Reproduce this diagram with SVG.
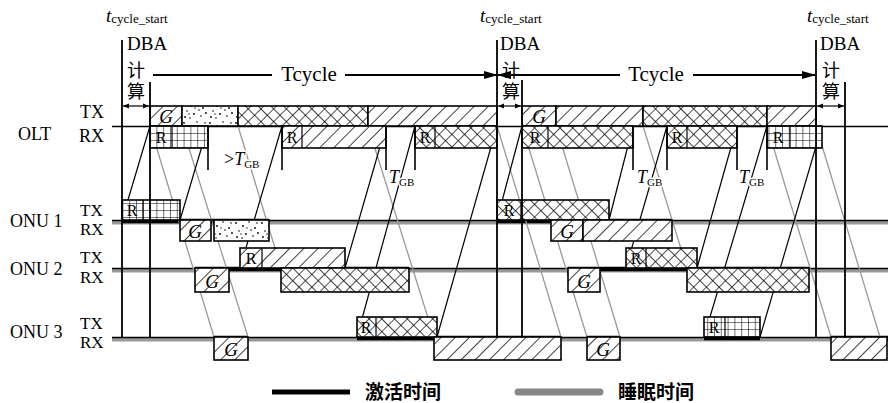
<svg xmlns="http://www.w3.org/2000/svg" width="888" height="403" viewBox="0 0 888 403">
<style>
text{font-family:"Liberation Serif","Noto Sans CJK SC",serif;fill:#000}
.lb{font-size:18px}
.lt{font-size:17px}
.box{stroke:#000;stroke-width:1.6}
.sep{stroke:#000;stroke-width:1.2}
.up{stroke:#000;stroke-width:1.2;fill:none}
.dn{stroke:#999;stroke-width:1.3;fill:none}
.v{stroke:#000;stroke-width:1.8}
.mk{stroke:#000;stroke-width:1.6}
.g{font-style:italic;font-size:19px}
.r{font-size:16px}
.halo{paint-order:stroke;stroke:#fff;stroke-width:3px}
.sleep{stroke:#999;stroke-width:4}
.base{stroke:#000;stroke-width:1.5}
.act{stroke:#000;stroke-width:4.5}
.cj{font-family:"Noto Sans CJK SC",sans-serif;font-size:19px;font-weight:bold}
</style>
<defs>
<pattern id="pd" width="10" height="10" patternUnits="userSpaceOnUse" patternTransform="rotate(45)">
<rect width="10" height="10" fill="#fff"/><line x1="0" y1="0" x2="0" y2="10" stroke="#000" stroke-width="1.5"/></pattern>
<pattern id="px" width="9" height="9" patternUnits="userSpaceOnUse" patternTransform="rotate(45)">
<rect width="9" height="9" fill="#fff"/><path d="M0,0V9M0,0H9" stroke="#000" stroke-width="1.35"/></pattern>
<pattern id="pg" width="6.8" height="7" patternUnits="userSpaceOnUse">
<rect width="6.8" height="7" fill="#fff"/><path d="M0,0V7M0,0H6.8" stroke="#000" stroke-width="1.1"/></pattern>
<pattern id="pdot" width="26" height="20" patternUnits="userSpaceOnUse">
<rect width="26" height="20" fill="#fff"/>
<g fill="#000"><circle cx="2" cy="3" r="0.9"/><circle cx="9" cy="6" r="0.9"/><circle cx="15" cy="2" r="0.8"/><circle cx="21" cy="8" r="0.9"/><circle cx="5" cy="11" r="0.8"/><circle cx="12" cy="14" r="0.9"/><circle cx="19" cy="16" r="0.8"/><circle cx="24" cy="13" r="0.9"/><circle cx="3" cy="17" r="0.9"/><circle cx="17" cy="10" r="0.8"/><circle cx="8" cy="18" r="0.8"/><circle cx="23" cy="3" r="0.8"/><circle cx="13" cy="8" r="0.7"/><circle cx="7" cy="14" r="0.7"/></g></pattern>
<marker id="ah" markerWidth="14" markerHeight="10" refX="13" refY="5" orient="auto-start-reverse" markerUnits="userSpaceOnUse"><path d="M0,1 L14,5 L0,9z"/></marker>
<marker id="sa" markerWidth="6" markerHeight="6" refX="6" refY="3" orient="auto-start-reverse" markerUnits="userSpaceOnUse"><path d="M0,0.5 L6,3 L0,5.5z"/></marker>
</defs>
<rect width="888" height="403" fill="#fff"/>

<g id="rows">
<line class="base" x1="112" y1="126.5" x2="888" y2="126.5"/>
<g id="onu1-line">
<line class="sleep" x1="112" y1="222.5" x2="888" y2="222.5"/>
<line class="base" x1="112" y1="220.5" x2="888" y2="220.5"/>
<line class="act" x1="122" y1="221" x2="269" y2="221"/>
<line class="act" x1="497" y1="221" x2="672" y2="221"/>
</g>
<g id="onu2-line">
<line class="sleep" x1="112" y1="270.5" x2="888" y2="270.5"/>
<line class="base" x1="112" y1="268.5" x2="888" y2="268.5"/>
<line class="act" x1="195" y1="269" x2="409" y2="269"/>
<line class="act" x1="568" y1="269" x2="809" y2="269"/>
</g>
<g id="onu3-line">
<line class="sleep" x1="112" y1="339.5" x2="888" y2="339.5"/>
<line class="base" x1="112" y1="337.5" x2="888" y2="337.5"/>
<line class="act" x1="214" y1="338" x2="248" y2="338"/>
<line class="act" x1="357" y1="338" x2="561" y2="338"/>
<line class="act" x1="587" y1="338" x2="620" y2="338"/>
<line class="act" x1="704" y1="338" x2="760" y2="338"/>
<line class="act" x1="831" y1="338" x2="888" y2="338"/>
</g>
</g>

<g id="connectors">
<line class="dn" x1="150" y1="126" x2="214" y2="337"/>
<line class="dn" x1="182" y1="126" x2="248" y2="337"/>
<line class="dn" x1="238" y1="126" x2="281" y2="268"/>
<line class="dn" x1="368" y1="126" x2="434" y2="337"/>
<line class="dn" x1="497" y1="126" x2="561" y2="337"/>
<line class="dn" x1="522" y1="126" x2="587" y2="337"/>
<line class="dn" x1="556" y1="126" x2="620" y2="337"/>
<line class="dn" x1="643" y1="126" x2="687" y2="268"/>
<line class="dn" x1="767" y1="126" x2="831" y2="337"/>
<line class="dn" x1="816" y1="126" x2="880" y2="337"/>
<line class="up" x1="122" y1="220" x2="150" y2="126"/>
<line class="up" x1="180" y1="220" x2="208" y2="126"/>
<line class="up" x1="240" y1="268" x2="282" y2="126"/>
<line class="up" x1="345" y1="268" x2="386" y2="126"/>
<line class="up" x1="357" y1="337" x2="415" y2="126"/>
<line class="up" x1="437" y1="337" x2="497" y2="126"/>
<line class="up" x1="497" y1="220" x2="522" y2="126"/>
<line class="up" x1="609" y1="220" x2="633" y2="126"/>
<line class="up" x1="626" y1="268" x2="667" y2="126"/>
<line class="up" x1="697" y1="268" x2="737" y2="126"/>
<line class="up" x1="704" y1="337" x2="767" y2="126"/>
<line class="up" x1="760" y1="337" x2="822" y2="126"/>
</g>

<g id="olt-tx">
<g id="olt-tx-g1"><rect class="box" x="150" y="106" width="32" height="20" fill="url(#pd)"/><text class="g" x="166" y="123" text-anchor="middle">G</text></g>
<g id="olt-tx-d1"><rect class="box" x="182" y="106" width="56" height="20" fill="url(#pdot)"/></g>
<g id="olt-tx-x1"><rect class="box" x="238" y="106" width="130" height="20" fill="url(#px)"/></g>
<g id="olt-tx-h1"><rect class="box" x="368" y="106" width="129" height="20" fill="url(#pd)"/></g>
<g id="olt-tx-g2"><rect class="box" x="522" y="106" width="34" height="20" fill="url(#pd)"/><text class="g" x="539" y="123" text-anchor="middle">G</text></g>
<g id="olt-tx-h2"><rect class="box" x="556" y="106" width="87" height="20" fill="url(#pd)"/></g>
<g id="olt-tx-x2"><rect class="box" x="643" y="106" width="124" height="20" fill="url(#px)"/></g>
<g id="olt-tx-h3"><rect class="box" x="767" y="106" width="49" height="20" fill="url(#pd)"/></g>
</g>

<g id="olt-rx">
<g id="olt-rx-1"><rect class="box" x="150" y="126" width="58" height="22" fill="url(#pg)"/><line class="sep" x1="172" y1="126" x2="172" y2="148"/><text class="r" x="161" y="143" text-anchor="middle">R</text></g>
<g id="olt-rx-2"><rect class="box" x="282" y="126" width="104" height="22" fill="url(#pd)"/><line class="sep" x1="302" y1="126" x2="302" y2="148"/><text class="r" x="292" y="143" text-anchor="middle">R</text></g>
<g id="olt-rx-3"><rect class="box" x="415" y="126" width="82" height="22" fill="url(#px)"/><line class="sep" x1="435" y1="126" x2="435" y2="148"/><text class="r" x="425" y="143" text-anchor="middle">R</text></g>
<g id="olt-rx-4"><rect class="box" x="522" y="126" width="111" height="22" fill="url(#px)"/><line class="sep" x1="548" y1="126" x2="548" y2="148"/><text class="r" x="535" y="143" text-anchor="middle">R</text></g>
<g id="olt-rx-5"><rect class="box" x="667" y="126" width="70" height="22" fill="url(#px)"/><line class="sep" x1="687" y1="126" x2="687" y2="148"/><text class="r" x="677" y="143" text-anchor="middle">R</text></g>
<g id="olt-rx-6"><rect class="box" x="767" y="126" width="55" height="22" fill="url(#pg)"/><line class="sep" x1="790" y1="126" x2="790" y2="148"/><text class="r" x="778" y="143" text-anchor="middle">R</text></g>
</g>

<g id="onu1-boxes">
<g id="onu1-tx-1"><rect class="box" x="122" y="200" width="58" height="20" fill="url(#pg)"/><line class="sep" x1="143" y1="200" x2="143" y2="220"/><text class="r" x="132" y="216" text-anchor="middle">R</text></g>
<g id="onu1-tx-2"><rect class="box" x="497" y="200" width="112" height="20" fill="url(#px)"/><line class="sep" x1="521" y1="200" x2="521" y2="220"/><text class="r" x="509" y="216" text-anchor="middle">R</text></g>
<g id="onu1-rx-g1"><rect class="box" x="180" y="220" width="31" height="21" fill="url(#pd)"/><text class="g" x="195" y="238" text-anchor="middle">G</text></g>
<g id="onu1-rx-d1"><rect class="box" x="214" y="220" width="55" height="21" fill="url(#pdot)"/></g>
<g id="onu1-rx-g2"><rect class="box" x="551" y="220" width="32" height="21" fill="url(#pd)"/><text class="g" x="567" y="238" text-anchor="middle">G</text></g>
<g id="onu1-rx-h2"><rect class="box" x="583" y="220" width="89" height="21" fill="url(#pd)"/></g>
</g>

<g id="onu2-boxes">
<g id="onu2-tx-1"><rect class="box" x="240" y="248" width="105" height="20" fill="url(#pd)"/><line class="sep" x1="262" y1="248" x2="262" y2="268"/><text class="r" x="251" y="264" text-anchor="middle">R</text></g>
<g id="onu2-tx-2"><rect class="box" x="626" y="248" width="71" height="20" fill="url(#px)"/><line class="sep" x1="646" y1="248" x2="646" y2="268"/><text class="r" x="636" y="264" text-anchor="middle">R</text></g>
<g id="onu2-rx-g1"><rect class="box" x="195" y="268" width="34" height="24" fill="url(#pd)"/><text class="g" x="212" y="288" text-anchor="middle">G</text></g>
<g id="onu2-rx-x1"><rect class="box" x="281" y="268" width="128" height="24" fill="url(#px)"/></g>
<g id="onu2-rx-g2"><rect class="box" x="568" y="268" width="32" height="24" fill="url(#pd)"/><text class="g" x="584" y="288" text-anchor="middle">G</text></g>
<g id="onu2-rx-x2"><rect class="box" x="687" y="268" width="122" height="24" fill="url(#px)"/></g>
</g>

<g id="onu3-boxes">
<g id="onu3-tx-1"><rect class="box" x="357" y="317" width="80" height="20" fill="url(#px)"/><line class="sep" x1="376" y1="317" x2="376" y2="337"/><text class="r" x="366" y="333" text-anchor="middle">R</text></g>
<g id="onu3-tx-2"><rect class="box" x="704" y="317" width="56" height="20" fill="url(#pg)"/><line class="sep" x1="725" y1="317" x2="725" y2="337"/><text class="r" x="714" y="333" text-anchor="middle">R</text></g>
<g id="onu3-rx-g1"><rect class="box" x="214" y="337" width="34" height="23" fill="url(#pd)"/><text class="g" x="231" y="356" text-anchor="middle">G</text></g>
<g id="onu3-rx-h1"><rect class="box" x="434" y="337" width="127" height="23" fill="url(#pd)"/></g>
<g id="onu3-rx-g2"><rect class="box" x="587" y="337" width="33" height="23" fill="url(#pd)"/><text class="g" x="603" y="356" text-anchor="middle">G</text></g>
<g id="onu3-rx-h2"><rect class="box" x="831" y="337" width="56" height="23" fill="url(#pd)"/></g>
</g>

<g id="markers">
<line class="v" x1="122" y1="40" x2="122" y2="338"/>
<line class="v" x1="150" y1="82" x2="150" y2="338"/>
<line class="v" x1="497" y1="40" x2="497" y2="338"/>
<line class="v" x1="522" y1="80" x2="522" y2="338"/>
<line class="v" x1="816" y1="40" x2="816" y2="338"/>
<line class="v" x1="845" y1="82" x2="845" y2="338"/>
<line class="mk" x1="208" y1="126" x2="208" y2="170"/>
<line class="mk" x1="282" y1="126" x2="282" y2="170"/>
<line class="mk" x1="386" y1="126" x2="386" y2="170"/>
<line class="mk" x1="415" y1="126" x2="415" y2="170"/>
<line class="mk" x1="633" y1="126" x2="633" y2="170"/>
<line class="mk" x1="667" y1="126" x2="667" y2="170"/>
<line class="mk" x1="737" y1="126" x2="737" y2="170"/>
<line class="mk" x1="767" y1="126" x2="767" y2="170"/>
<line stroke="#000" stroke-width="1.2" x1="123" y1="106" x2="149" y2="106" marker-start="url(#sa)" marker-end="url(#sa)"/>
<line stroke="#000" stroke-width="1.2" x1="498" y1="106" x2="521" y2="106" marker-start="url(#sa)" marker-end="url(#sa)"/>
<line stroke="#000" stroke-width="1.2" x1="817" y1="106" x2="844" y2="106" marker-start="url(#sa)" marker-end="url(#sa)"/>
</g>

<g id="tcycle">
<line stroke="#000" stroke-width="2" x1="153" y1="75" x2="272" y2="75"/>
<line stroke="#000" stroke-width="2" x1="345" y1="75" x2="497" y2="75" marker-end="url(#ah)"/>
<text x="309" y="81" font-size="21" text-anchor="middle">Tcycle</text>
<line stroke="#000" stroke-width="2" x1="498" y1="75" x2="620" y2="75" marker-start="url(#ah)"/>
<line stroke="#000" stroke-width="2" x1="693" y1="75" x2="815" y2="75" marker-end="url(#ah)"/>
<text x="656" y="81" font-size="21" text-anchor="middle">Tcycle</text>
</g>

<g id="labels">
<text x="106" y="22"><tspan font-style="italic" font-size="19">t</tspan><tspan font-size="13" dy="1">cycle_start</tspan></text>
<text x="480" y="22"><tspan font-style="italic" font-size="19">t</tspan><tspan font-size="13" dy="1">cycle_start</tspan></text>
<text x="807" y="22"><tspan font-style="italic" font-size="19">t</tspan><tspan font-size="13" dy="1">cycle_start</tspan></text>
<text x="127" y="50" font-size="19">DBA</text>
<text font-size="18"><tspan x="127" y="77">计</tspan><tspan x="127" y="98">算</tspan></text>
<text x="500" y="50" font-size="19">DBA</text>
<text font-size="18"><tspan x="502" y="77">计</tspan><tspan x="502" y="98">算</tspan></text>
<text x="820" y="50" font-size="19">DBA</text>
<text font-size="18"><tspan x="822" y="77">计</tspan><tspan x="822" y="98">算</tspan></text>
<text class="lb" x="18" y="140">OLT</text>
<text class="lb"><tspan x="80" y="118">TX</tspan><tspan x="79" y="142">RX</tspan></text>
<text class="lb" x="10" y="227" font-size="19">ONU 1</text>
<text class="lt" x="80" y="215.5">TX</text>
<text class="lt" x="80" y="235">RX</text>
<text class="lb" x="10" y="275" font-size="19">ONU 2</text>
<text class="lt" x="80" y="263">TX</text>
<text class="lt" x="80" y="282.5">RX</text>
<text class="lb" x="10" y="338" font-size="19">ONU 3</text>
<text class="lt" x="80" y="328.5">TX</text>
<text class="lt" x="80" y="348">RX</text>
<text class="halo" x="224" y="165" font-size="18">&gt;<tspan font-style="italic">T</tspan><tspan font-size="11" dy="3">GB</tspan></text>
<text class="halo" x="389" y="183" font-size="18"><tspan font-style="italic">T</tspan><tspan font-size="11" dy="3">GB</tspan></text>
<text class="halo" x="637" y="183" font-size="18"><tspan font-style="italic">T</tspan><tspan font-size="11" dy="3">GB</tspan></text>
<text class="halo" x="739" y="183" font-size="18"><tspan font-style="italic">T</tspan><tspan font-size="11" dy="3">GB</tspan></text>
</g>

<g id="legend">
<line stroke="#000" stroke-width="5" x1="272" y1="392" x2="350" y2="392"/>
<text class="cj" x="365" y="399">激活时间</text>
<line stroke="#888" stroke-width="7" stroke-linecap="round" x1="518" y1="392" x2="600" y2="392"/>
<text class="cj" x="618" y="399">睡眠时间</text>
</g>
</svg>
